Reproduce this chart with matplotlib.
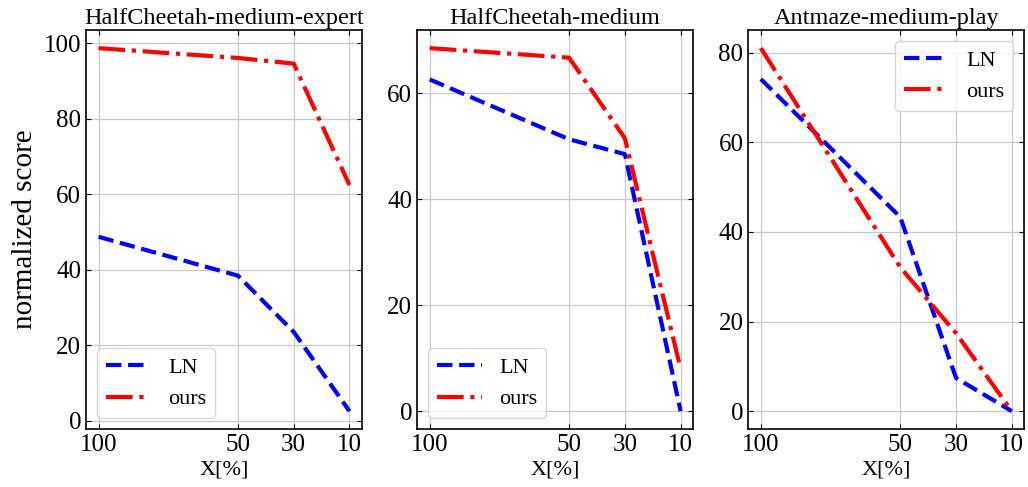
import matplotlib
matplotlib.use("Agg")
import matplotlib.pyplot as plt

plt.rcParams['font.family'] = ['Liberation Serif', 'DejaVu Serif']
plt.rcParams['mathtext.fontset'] = 'stix'

x = [100, 50, 30, 10]

titles = ["HalfCheetah-medium-expert", "HalfCheetah-medium", "Antmaze-medium-play"]

ln_scores = [
    [48.7, 38.4, 23.5, 2.5],
    [62.6, 51.3, 48.5, 0.0],
    [74.1, 43.3, 7.4, 0.0],
]
ours_scores = [
    [98.7, 96.1, 94.6, 62.4],
    [68.5, 66.7, 51.5, 8.0],
    [81.0, 32.1, 17.4, 0.0],
]
yticks = [
    [0, 20, 40, 60, 80, 100],
    [0, 20, 40, 60],
    [0, 20, 40, 60, 80],
]
legend_locs = ["lower left", "lower left", "upper right"]

fig, axes = plt.subplots(1, 3, figsize=(10.28, 4.87), dpi=100)
fig.subplots_adjust(left=0.0837, right=0.9964, top=0.9384, bottom=0.1185, wspace=0.2)

for i, ax in enumerate(axes):
    ax.plot(x, ln_scores[i], color='blue', linestyle='--', linewidth=3, label='LN')
    ax.plot(x, ours_scores[i], color='red', linestyle='-.', linewidth=3, label='ours')
    ax.invert_xaxis()
    ax.set_xticks(x)
    ax.set_yticks(yticks[i])
    ax.tick_params(direction='in', top=True, right=True, length=3.5, labelsize=18)
    ax.grid(True, color='#c8c8c8', linewidth=0.9)
    ax.set_title(titles[i], fontsize=17.5, pad=4)
    ax.set_xlabel("X[%]", fontsize=16, labelpad=3)
    for s in ax.spines.values():
        s.set_linewidth(1.2)
    ax.legend(loc=legend_locs[i], fontsize=16, framealpha=0.8, handlelength=2.0)

axes[0].set_ylabel("normalized score", fontsize=21)

plt.savefig("out.png", dpi=100)
